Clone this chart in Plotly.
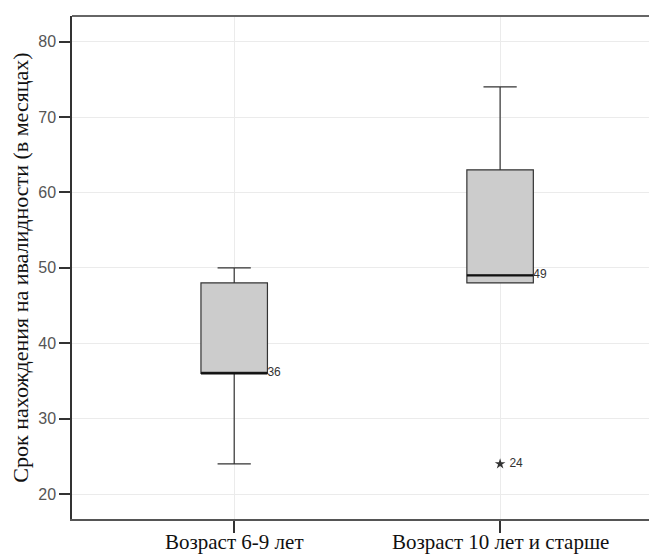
import plotly.graph_objects as go

categories = ["Возраст 6-9 лет", "Возраст 10 лет и старше"]
q1 = [36, 48]
median = [36, 49]
q3 = [48, 63]
lower = [24, 48]
upper = [50, 74]
outlier_cat = [1]
outlier_val = [24]
outlier_lbl = ["24"]
case_lbl = ["36", "49"]
yticks = [20, 30, 40, 50, 60, 70, 80]

pos = list(range(len(categories)))
bw = 0.25
dark = "#333333"

fig = go.Figure()
fig.add_trace(go.Box(
    x=pos, q1=q1, median=median, q3=q3, lowerfence=lower, upperfence=upper,
    fillcolor="#cccccc", line=dict(color=dark, width=1.2), width=bw,
    whiskerwidth=0.5, boxpoints=False, showlegend=False, hoverinfo="skip"))

# thicker median lines
for i, m in zip(pos, median):
    fig.add_trace(go.Scatter(x=[i - bw / 2, i + bw / 2], y=[m, m], mode="lines",
                             line=dict(color="#111111", width=2.2),
                             showlegend=False, hoverinfo="skip"))

# case labels next to boxes
fig.add_trace(go.Scatter(x=[i + bw / 2 for i in pos], y=median, mode="text",
                         text=case_lbl, textposition="middle right",
                         textfont=dict(family="Liberation Sans", size=12, color=dark),
                         showlegend=False, hoverinfo="skip"))

# outliers
fig.add_trace(go.Scatter(x=outlier_cat, y=outlier_val, mode="markers+text",
                         marker=dict(symbol="star", size=8, color=dark),
                         text=[" " + t for t in outlier_lbl], textposition="middle right",
                         textfont=dict(family="Liberation Sans", size=12, color=dark),
                         showlegend=False, hoverinfo="skip"))

# category labels as annotations (exact vertical placement)
annotations = [dict(x=p, y=0, xref="x", yref="paper", text=c, showarrow=False,
                    yanchor="middle", yshift=-23,
                    font=dict(family="Liberation Serif", size=21, color="#111111"))
               for p, c in zip(pos, categories)]

fig.update_layout(
    width=649, height=554,
    margin=dict(l=72, r=0, t=16, b=35, autoexpand=False),
    paper_bgcolor="white", plot_bgcolor="white",
    annotations=annotations,
    xaxis=dict(range=[-0.61, 1.56], tickvals=pos, showticklabels=False,
               showgrid=True, gridcolor="#ebebeb", gridwidth=1,
               showline=True, linecolor="#555555", linewidth=2,
               ticks="outside", ticklen=12, tickcolor="#333333", tickwidth=1.5,
               zeroline=False, automargin=False),
    yaxis=dict(range=[16.7, 83.4], tickvals=yticks,
               showgrid=True, gridcolor="#ebebeb", gridwidth=1,
               showline=True, linecolor="#333333", linewidth=1.5,
               ticks="outside", ticklen=11, tickcolor="#333333", tickwidth=1.5,
               tickfont=dict(family="Liberation Sans", size=16, color="#555555"),
               title=dict(text="Срок нахождения на ивалидности (в месяцах)",
                          font=dict(family="Liberation Serif", size=22, color="#111111"),
                          standoff=4),
               zeroline=False, automargin=False),
    shapes=[dict(type="line", xref="paper", yref="paper", x0=0, x1=1, y0=1, y1=1,
                 line=dict(color="#666666", width=2))],
)

fig.write_html("out.html", config={"displayModeBar": False},
               post_script="document.body.style.margin='0';document.body.style.overflow='hidden';"
                           "document.documentElement.style.overflow='hidden';")
